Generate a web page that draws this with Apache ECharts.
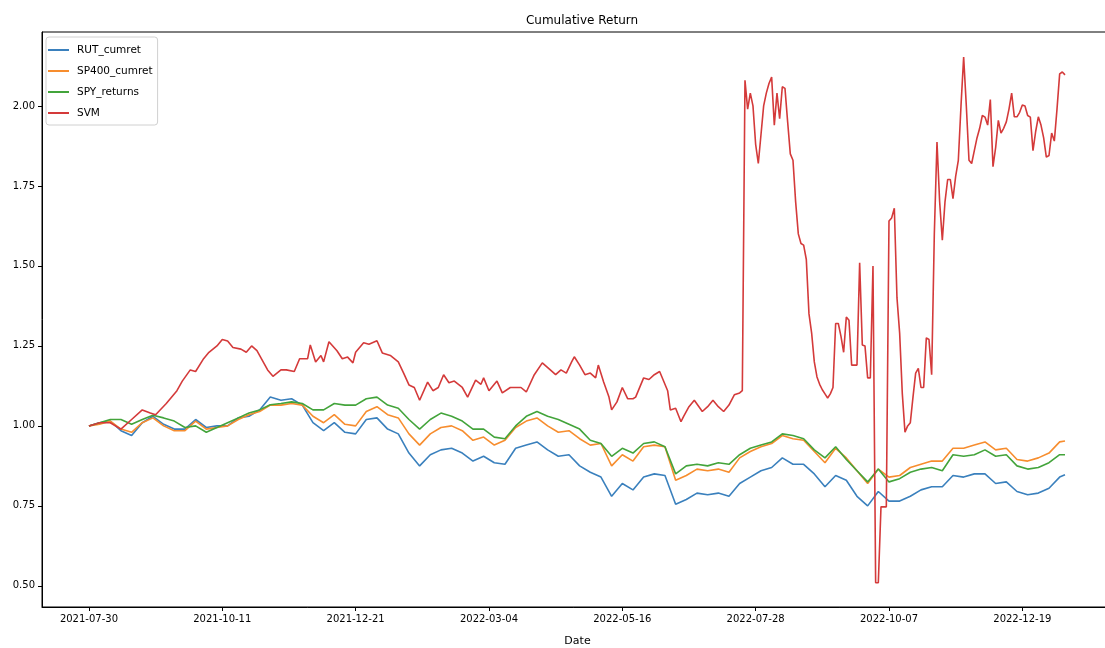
<!DOCTYPE html>
<html style="height: 100%">
<head>
    <meta charset="utf-8">
    <title>Cumulative Return</title>
    <script type="text/javascript" src="https://cdn.jsdelivr.net/npm/echarts@6.0.0/dist/echarts.min.js"></script>
</head>
<body style="width: 100%;margin: 0;height: 100%;background: #fff">
<div id="container" style="width: 1105px;height: 648px"></div>

<script type="application/javascript">

    // x = trading day number from 2021-07-30, a tick label every 50 days
    var tickPos = [0, 50, 100, 150, 200, 250, 300, 350];
    var tickLabels = ['2021-07-30', '2021-10-11', '2021-12-21', '2022-03-04',
        '2022-05-16', '2022-07-28', '2022-10-07', '2022-12-19'];
    var yTicks = [0.5, 0.75, 1.0, 1.25, 1.5, 1.75, 2.0];

    var dayIdx = [0, 4, 8, 12, 16, 20, 24, 28, 32, 36,
        40, 44, 48, 52, 56, 60, 64, 68, 72, 76,
        80, 84, 88, 92, 96, 100, 104, 108, 112, 116,
        120, 124, 128, 132, 136, 140, 144, 148, 152, 156,
        160, 164, 168, 172, 176, 180, 184, 188, 192, 196,
        200, 204, 208, 212, 216, 220, 224, 228, 232, 236,
        240, 244, 248, 252, 256, 260, 264, 268, 272, 276,
        280, 284, 288, 292, 296, 300, 304, 308, 312, 316,
        320, 324, 328, 332, 336, 340, 344, 348, 352, 356,
        360, 364, 366];

    var rutCumret = [1.00, 1.01, 1.015, 0.985, 0.97, 1.01, 1.03, 1.005, 0.99, 0.99,
        1.02, 0.995, 1.0, 1.0, 1.025, 1.03, 1.05, 1.09, 1.08, 1.085,
        1.065, 1.01, 0.985, 1.01, 0.98, 0.975, 1.02, 1.025, 0.99, 0.975,
        0.915, 0.875, 0.91, 0.925, 0.93, 0.915, 0.89, 0.905, 0.885, 0.88,
        0.93, 0.94, 0.95, 0.925, 0.905, 0.91, 0.875, 0.855, 0.84, 0.78,
        0.82, 0.8, 0.84, 0.85, 0.845, 0.755, 0.77, 0.79, 0.785, 0.79,
        0.78, 0.82, 0.84, 0.86, 0.87, 0.9, 0.88, 0.88, 0.85, 0.81,
        0.845, 0.83, 0.78, 0.75, 0.795, 0.765, 0.765, 0.78, 0.8, 0.81,
        0.81, 0.845, 0.84, 0.85, 0.85, 0.82, 0.825, 0.795, 0.785, 0.79,
        0.805, 0.84, 0.847];

    var sp400Cumret = [1.00, 1.005, 1.015, 0.99, 0.98, 1.01, 1.025, 1.0, 0.985, 0.985,
        1.015, 0.99, 0.995, 1.0, 1.02, 1.035, 1.045, 1.065, 1.065, 1.07,
        1.065, 1.03, 1.01, 1.035, 1.005, 1.0, 1.045, 1.06, 1.035, 1.025,
        0.975, 0.94, 0.975, 0.995, 1.0, 0.985, 0.955, 0.965, 0.94, 0.955,
        0.995, 1.015, 1.025, 1.0, 0.98, 0.985, 0.96, 0.94, 0.945, 0.875,
        0.91, 0.89, 0.935, 0.94, 0.935, 0.83, 0.845, 0.865, 0.86, 0.865,
        0.855, 0.9, 0.92, 0.935, 0.945, 0.97, 0.96, 0.955, 0.92, 0.885,
        0.93, 0.9, 0.86, 0.82, 0.865, 0.84, 0.845, 0.87, 0.88, 0.89,
        0.89, 0.93, 0.93, 0.94, 0.95, 0.925, 0.93, 0.895, 0.89, 0.9,
        0.915, 0.95, 0.953];

    var spyReturns = [1.00, 1.01, 1.02, 1.02, 1.005, 1.02, 1.033, 1.025, 1.015, 0.995,
        1.0, 0.98, 0.995, 1.01, 1.025, 1.04, 1.05, 1.066, 1.07, 1.075,
        1.07, 1.05, 1.05, 1.07, 1.065, 1.065, 1.085, 1.09, 1.065, 1.055,
        1.02, 0.99, 1.02, 1.04, 1.03, 1.015, 0.99, 0.99, 0.965, 0.96,
        1.0, 1.03, 1.045, 1.03, 1.02, 1.005, 0.99, 0.955, 0.945, 0.905,
        0.93, 0.915, 0.945, 0.95, 0.935, 0.85, 0.875, 0.88, 0.875, 0.885,
        0.88, 0.91, 0.93, 0.94, 0.95, 0.975, 0.97, 0.96, 0.925, 0.9,
        0.935, 0.895, 0.86, 0.825, 0.865, 0.825, 0.835, 0.855, 0.865, 0.87,
        0.86, 0.91, 0.905, 0.91, 0.925, 0.905, 0.91, 0.875, 0.865, 0.87,
        0.885, 0.91, 0.91];

    var svmIdx = [0, 4, 8, 12, 16, 20, 23, 25, 29, 33, 35, 38, 40, 43, 45, 48, 50, 52, 54, 57,
        59, 61, 63, 67, 69, 72, 74, 77, 79, 82, 83, 85, 87, 88, 90, 93, 95, 97, 99, 100,
        103, 105, 108, 110, 113, 116, 118, 120, 122, 124, 127, 129, 131, 133, 135, 137, 140, 142, 145, 147,
        148, 150, 153, 155, 158, 162, 164, 167, 170, 173, 175, 177, 179, 181, 182, 184, 186, 188, 190, 191,
        193, 195, 196, 198, 200, 202, 204, 205, 208, 210, 212, 214, 217, 218, 220, 222, 223, 225, 227, 230,
        232, 234, 236, 238, 240, 242, 244, 245, 246, 247, 248, 249, 250, 251, 252, 253, 254, 255, 256, 257,
        258, 259, 260, 261, 262, 263, 264, 265, 266, 267, 268, 269, 270, 271, 272, 273, 274, 275, 276, 277,
        278, 279, 280, 281, 282, 283, 284, 285, 286, 287, 288, 289, 290, 291, 292, 293, 294, 295, 296, 297,
        298, 299, 300, 301, 302, 303, 304, 305, 306, 307, 308, 309, 310, 311, 312, 313, 314, 315, 316, 317,
        318, 319, 320, 321, 322, 323, 324, 325, 326, 327, 328, 329, 330, 331, 332, 333, 334, 335, 336, 337,
        338, 339, 340, 341, 342, 343, 344, 345, 346, 347, 348, 349, 350, 351, 352, 353, 354, 355, 356, 357,
        358, 359, 360, 361, 362, 363, 364, 365, 366];

    var svm = [1.00, 1.01, 1.01, 0.99, 1.02, 1.05, 1.04, 1.035, 1.07, 1.11, 1.14, 1.175, 1.17, 1.21, 1.23, 1.25, 1.27, 1.265, 1.245, 1.24,
        1.23, 1.25, 1.235, 1.175, 1.155, 1.175, 1.175, 1.17, 1.21, 1.21, 1.253, 1.2, 1.22, 1.2, 1.263, 1.235, 1.21, 1.215, 1.197, 1.23,
        1.26, 1.255, 1.266, 1.228, 1.22, 1.2, 1.165, 1.128, 1.12, 1.08, 1.137, 1.11, 1.12, 1.16, 1.135, 1.14, 1.12, 1.09, 1.143, 1.13,
        1.15, 1.11, 1.14, 1.103, 1.12, 1.12, 1.106, 1.16, 1.197, 1.175, 1.16, 1.175, 1.165, 1.2, 1.216, 1.19, 1.16, 1.165, 1.15, 1.19,
        1.137, 1.09, 1.05, 1.075, 1.12, 1.085, 1.085, 1.09, 1.15, 1.145, 1.16, 1.17, 1.11, 1.05, 1.055, 1.013, 1.03, 1.06, 1.08, 1.045,
        1.06, 1.08, 1.06, 1.045, 1.065, 1.097, 1.103, 1.11, 2.08, 1.99, 2.04, 2.0, 1.88, 1.82, 1.91, 2.0, 2.04, 2.07, 2.09, 1.94,
        2.04, 1.96, 2.06, 2.055, 1.95, 1.85, 1.83, 1.70, 1.60, 1.57, 1.565, 1.52, 1.35, 1.29, 1.2, 1.153, 1.13, 1.113, 1.1, 1.087,
        1.10, 1.12, 1.32, 1.32, 1.28, 1.23, 1.34, 1.33, 1.19, 1.19, 1.19, 1.51, 1.253, 1.25, 1.15, 1.15, 1.50, 0.51, 0.51, 0.747,
        0.747, 0.747, 1.64, 1.65, 1.68, 1.40, 1.29, 1.10, 0.98, 1.0, 1.01, 1.09, 1.165, 1.18, 1.12, 1.12, 1.275, 1.27, 1.16, 1.60,
        1.887, 1.70, 1.58, 1.70, 1.77, 1.77, 1.71, 1.78, 1.83, 2.0, 2.153, 2.0, 1.83, 1.82, 1.86, 1.90, 1.93, 1.97, 1.965, 1.94,
        2.02, 1.81, 1.87, 1.955, 1.915, 1.93, 1.95, 1.99, 2.04, 1.966, 1.966, 1.98, 2.003, 2.0, 1.97, 1.965, 1.86, 1.92, 1.966, 1.94,
        1.9, 1.84, 1.845, 1.915, 1.89, 1.99, 2.10, 2.106, 2.097];

    var font = "'DejaVu Sans', sans-serif";

    function pairs(xs, ys) {
        var out = [];
        for (var i = 0; i < xs.length; i++) {
            out.push([xs[i], ys[i]]);
        }
        return out;
    }

    function lineSeries(name, color, data) {
        return {
            name: name,
            type: 'line',
            symbol: 'none',
            color: color,
            lineStyle: {width: 1.6, color: color},
            data: data
        };
    }

    var dom = document.getElementById("container");
    var myChart = echarts.init(dom, null, {renderer: 'canvas'});

    var option = {
        animation: false,
        backgroundColor: '#fff',
        textStyle: {fontFamily: font},
        title: {
            text: 'Cumulative Return',
            left: 577,
            textAlign: 'center',
            top: 10,
            textStyle: {fontFamily: font, fontSize: 12, fontWeight: 'normal', color: '#000'}
        },
        legend: {
            orient: 'vertical',
            left: 46,
            top: 37,
            icon: 'rect',
            itemWidth: 21,
            itemHeight: 2,
            itemGap: 7,
            padding: [6, 5, 5, 2],
            borderColor: '#d0d0d0',
            borderWidth: 1,
            borderRadius: 3,
            backgroundColor: '#fff',
            textStyle: {fontFamily: font, fontSize: 10.5, color: '#000', lineHeight: 14, padding: [0, 0, 0, 3]},
            data: ['RUT_cumret', 'SP400_cumret', 'SPY_returns', 'SVM']
        },
        grid: {
            left: 42,
            right: -8,
            top: 32,
            bottom: 41,
            outerBoundsMode: 'none',
            containLabel: false,
            show: true,
            borderColor: '#000',
            borderWidth: 1
        },
        xAxis: {
            type: 'value',
            min: -17.6,
            max: 384,
            name: 'Date',
            nameLocation: 'middle',
            nameGap: 29,
            nameTextStyle: {fontFamily: font, fontSize: 11, color: '#000'},
            splitLine: {show: false},
            axisLine: {onZero: false, lineStyle: {color: '#000'}},
            axisTick: {customValues: tickPos, length: 4, lineStyle: {color: '#000'}},
            axisLabel: {
                customValues: tickPos,
                margin: 7,
                fontFamily: font,
                fontSize: 10,
                color: '#000',
                formatter: function (v) {
                    return tickLabels[tickPos.indexOf(v)];
                }
            }
        },
        yAxis: {
            type: 'value',
            min: 0.434,
            max: 2.231,
            splitLine: {show: false},
            axisLine: {show: true, onZero: false, lineStyle: {color: '#000'}},
            axisTick: {show: true, customValues: yTicks, length: 4, lineStyle: {color: '#000'}},
            axisLabel: {
                customValues: yTicks,
                margin: 7,
                fontFamily: font,
                fontSize: 10,
                color: '#000',
                formatter: function (v) {
                    return v.toFixed(2);
                }
            }
        },
        series: [
            lineSeries('RUT_cumret', '#3a80bd', pairs(dayIdx, rutCumret)),
            lineSeries('SP400_cumret', '#f78d2e', pairs(dayIdx, sp400Cumret)),
            lineSeries('SPY_returns', '#43a43b', pairs(dayIdx, spyReturns)),
            lineSeries('SVM', '#d43a3a', pairs(svmIdx, svm))
        ]
    };

    myChart.setOption(option);
</script>

</body>
</html>
